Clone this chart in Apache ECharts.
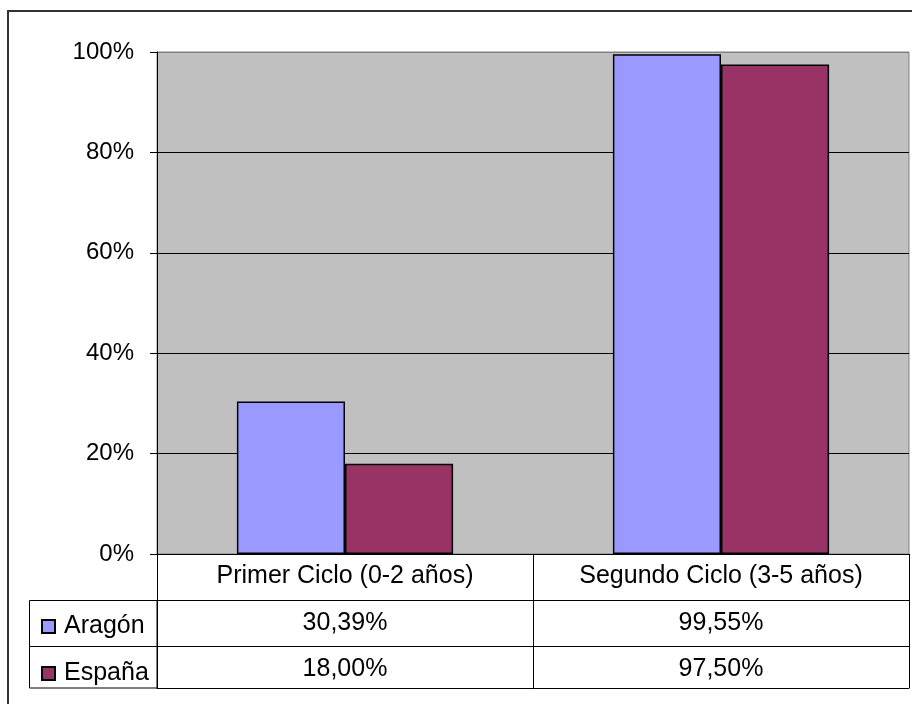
<!DOCTYPE html>
<html>
<head>
<meta charset="utf-8">
<script src="https://cdn.jsdelivr.net/npm/echarts@6/dist/echarts.min.js"></script>
<style>
html,body{margin:0;padding:0;background:#fff;}
#c{width:912px;height:704px;}
</style>
</head>
<body>
<div id="c"></div>
<script>
// Data
var categories = ['Primer Ciclo (0-2 años)', 'Segundo Ciclo (3-5 años)'];
var seriesNames = ['Aragón', 'España'];
var aragon = [30.39, 99.55];
var espana = [18.00, 97.50];
var yTicks = [0, 20, 40, 60, 80, 100];

function fmt(v) { return v.toFixed(2).replace('.', ',') + '%'; }
var aragonLabels = aragon.map(fmt);
var espanaLabels = espana.map(fmt);
var blankLabels = categories.map(function () { return ''; });

var FONT = '"Liberation Sans", Arial, sans-serif';
var chart = echarts.init(document.getElementById('c'), null, { renderer: 'canvas' });

function rowAxis(data, offset, tickLen) {
  return {
    type: 'category',
    position: 'bottom',
    offset: offset,
    data: data,
    boundaryGap: true,
    axisLine: { show: true, lineStyle: { color: '#000', width: 1 } },
    axisTick: { show: true, inside: true, length: tickLen, interval: 0, lineStyle: { color: '#000', width: 1 } },
    axisLabel: { show: true, interval: 0, margin: 11, color: '#000', fontSize: 25, lineHeight: 24, fontFamily: FONT },
    splitLine: { show: false }
  };
}

var splitColors = yTicks.map(function (t, i) { return i === yTicks.length - 1 ? '#808080' : '#000'; });

var option = {
  backgroundColor: '#fff',
  animation: false,
  grid: {
    left: 157, right: 3, top: 52, bottom: 150,
    show: true, backgroundColor: '#C0C0C0', borderColor: '#808080', borderWidth: 1
  },
  legend: {
    orient: 'vertical',
    left: 36, top: 609,
    itemWidth: 13, itemHeight: 13, itemGap: 22,
    icon: 'rect',
    data: seriesNames,
    textStyle: { color: '#000', fontSize: 25, lineHeight: 24, fontFamily: FONT, padding: [0, 0, 0, 4] }
  },
  xAxis: [
    {
      type: 'category',
      position: 'bottom',
      data: categories,
      axisLine: { show: true, lineStyle: { color: '#000', width: 1 } },
      axisTick: { show: false },
      axisLabel: { show: true, interval: 0, margin: 10, color: '#000', fontSize: 25, lineHeight: 24, fontFamily: FONT },
      splitLine: { show: false }
    },
    rowAxis(aragonLabels, 46, 46),
    rowAxis(espanaLabels, 92, 46),
    rowAxis(blankLabels, 134, 42)
  ],
  yAxis: {
    type: 'value',
    min: 0, max: 100, interval: 20,
    axisLine: { show: true, lineStyle: { color: '#000', width: 1 } },
    axisTick: { show: true, length: 7, lineStyle: { color: '#000', width: 1 } },
    axisLabel: { formatter: '{value}%', margin: 23, color: '#000', fontSize: 24, fontFamily: FONT },
    splitLine: { show: true, lineStyle: { color: splitColors, width: 1 } }
  },
  series: [
    {
      name: seriesNames[0], type: 'bar', data: aragon,
      barGap: '0%', barCategoryGap: '42.5%',
      itemStyle: { color: '#9999FF', borderColor: '#000', borderWidth: 1.5 }
    },
    {
      name: seriesNames[1], type: 'bar', data: espana,
      barGap: '0%', barCategoryGap: '42.5%',
      itemStyle: { color: '#993366', borderColor: '#000', borderWidth: 1.5 }
    }
  ],
  graphic: [
    { type: 'rect', shape: { x: 8, y: 11, width: 1000, height: 1000 }, style: { fill: 'none', stroke: '#333', lineWidth: 2 }, silent: true },
    { type: 'rect', shape: { x: 29.5, y: 600.5, width: 127.5, height: 87.5 }, style: { fill: 'none', stroke: '#000', lineWidth: 1 }, silent: true },
    { type: 'line', shape: { x1: 29.5, y1: 646.5, x2: 157, y2: 646.5 }, style: { stroke: '#000', lineWidth: 1 }, silent: true }
  ]
};
chart.setOption(option);
</script>
</body>
</html>
